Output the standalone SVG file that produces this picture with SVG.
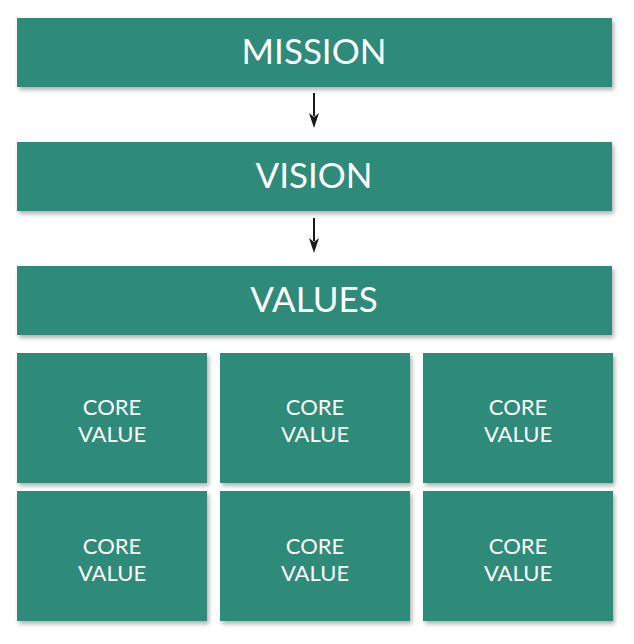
<svg xmlns="http://www.w3.org/2000/svg" width="634" height="644" viewBox="0 0 634 644">
<style>
.box{fill:#2e8a79;filter:url(#sh)}
.t{fill:#fff;font-family:Lato,"Open Sans",sans-serif;text-anchor:middle}
.big{font-size:35px}
.sm{font-size:22px}
.con{stroke:#1a1a1a;stroke-width:2;fill:none}
</style>
<defs>
<filter id="sh" x="-5%" y="-10%" width="115%" height="130%">
<feDropShadow dx="2" dy="3" stdDeviation="2" flood-color="#000" flood-opacity="0.3"/>
</filter>
</defs>
<rect width="634" height="644" fill="#fff"/>
<g id="connectors">
<line class="con" x1="314" y1="93" x2="314" y2="116"/>
<path d="M309,113 L314,128 L319,113 L314,117 Z" fill="#1a1a1a"/>
<line class="con" x1="314" y1="218" x2="314" y2="241"/>
<path d="M309,238 L314,253 L319,238 L314,242 Z" fill="#1a1a1a"/>
</g>
<g id="mission"><rect class="box" x="17" y="18" width="595" height="69"/><text class="t big" x="314" y="64">MISSION</text></g>
<g id="vision"><rect class="box" x="17" y="142" width="595" height="69"/><text class="t big" x="314" y="188">VISION</text></g>
<g id="values"><rect class="box" x="17" y="266" width="595" height="69"/><text class="t big" x="314" y="312">VALUES</text></g>
<g id="cv1"><rect class="box" x="17" y="353" width="190" height="130"/><text class="t sm" x="112" y="415">CORE</text><text class="t sm" x="112" y="442">VALUE</text></g>
<g id="cv2"><rect class="box" x="220" y="353" width="190" height="130"/><text class="t sm" x="315" y="415">CORE</text><text class="t sm" x="315" y="442">VALUE</text></g>
<g id="cv3"><rect class="box" x="423" y="353" width="190" height="130"/><text class="t sm" x="518" y="415">CORE</text><text class="t sm" x="518" y="442">VALUE</text></g>
<g id="cv4"><rect class="box" x="17" y="491" width="190" height="130"/><text class="t sm" x="112" y="554">CORE</text><text class="t sm" x="112" y="581">VALUE</text></g>
<g id="cv5"><rect class="box" x="220" y="491" width="190" height="130"/><text class="t sm" x="315" y="554">CORE</text><text class="t sm" x="315" y="581">VALUE</text></g>
<g id="cv6"><rect class="box" x="423" y="491" width="190" height="130"/><text class="t sm" x="518" y="554">CORE</text><text class="t sm" x="518" y="581">VALUE</text></g>
</svg>
